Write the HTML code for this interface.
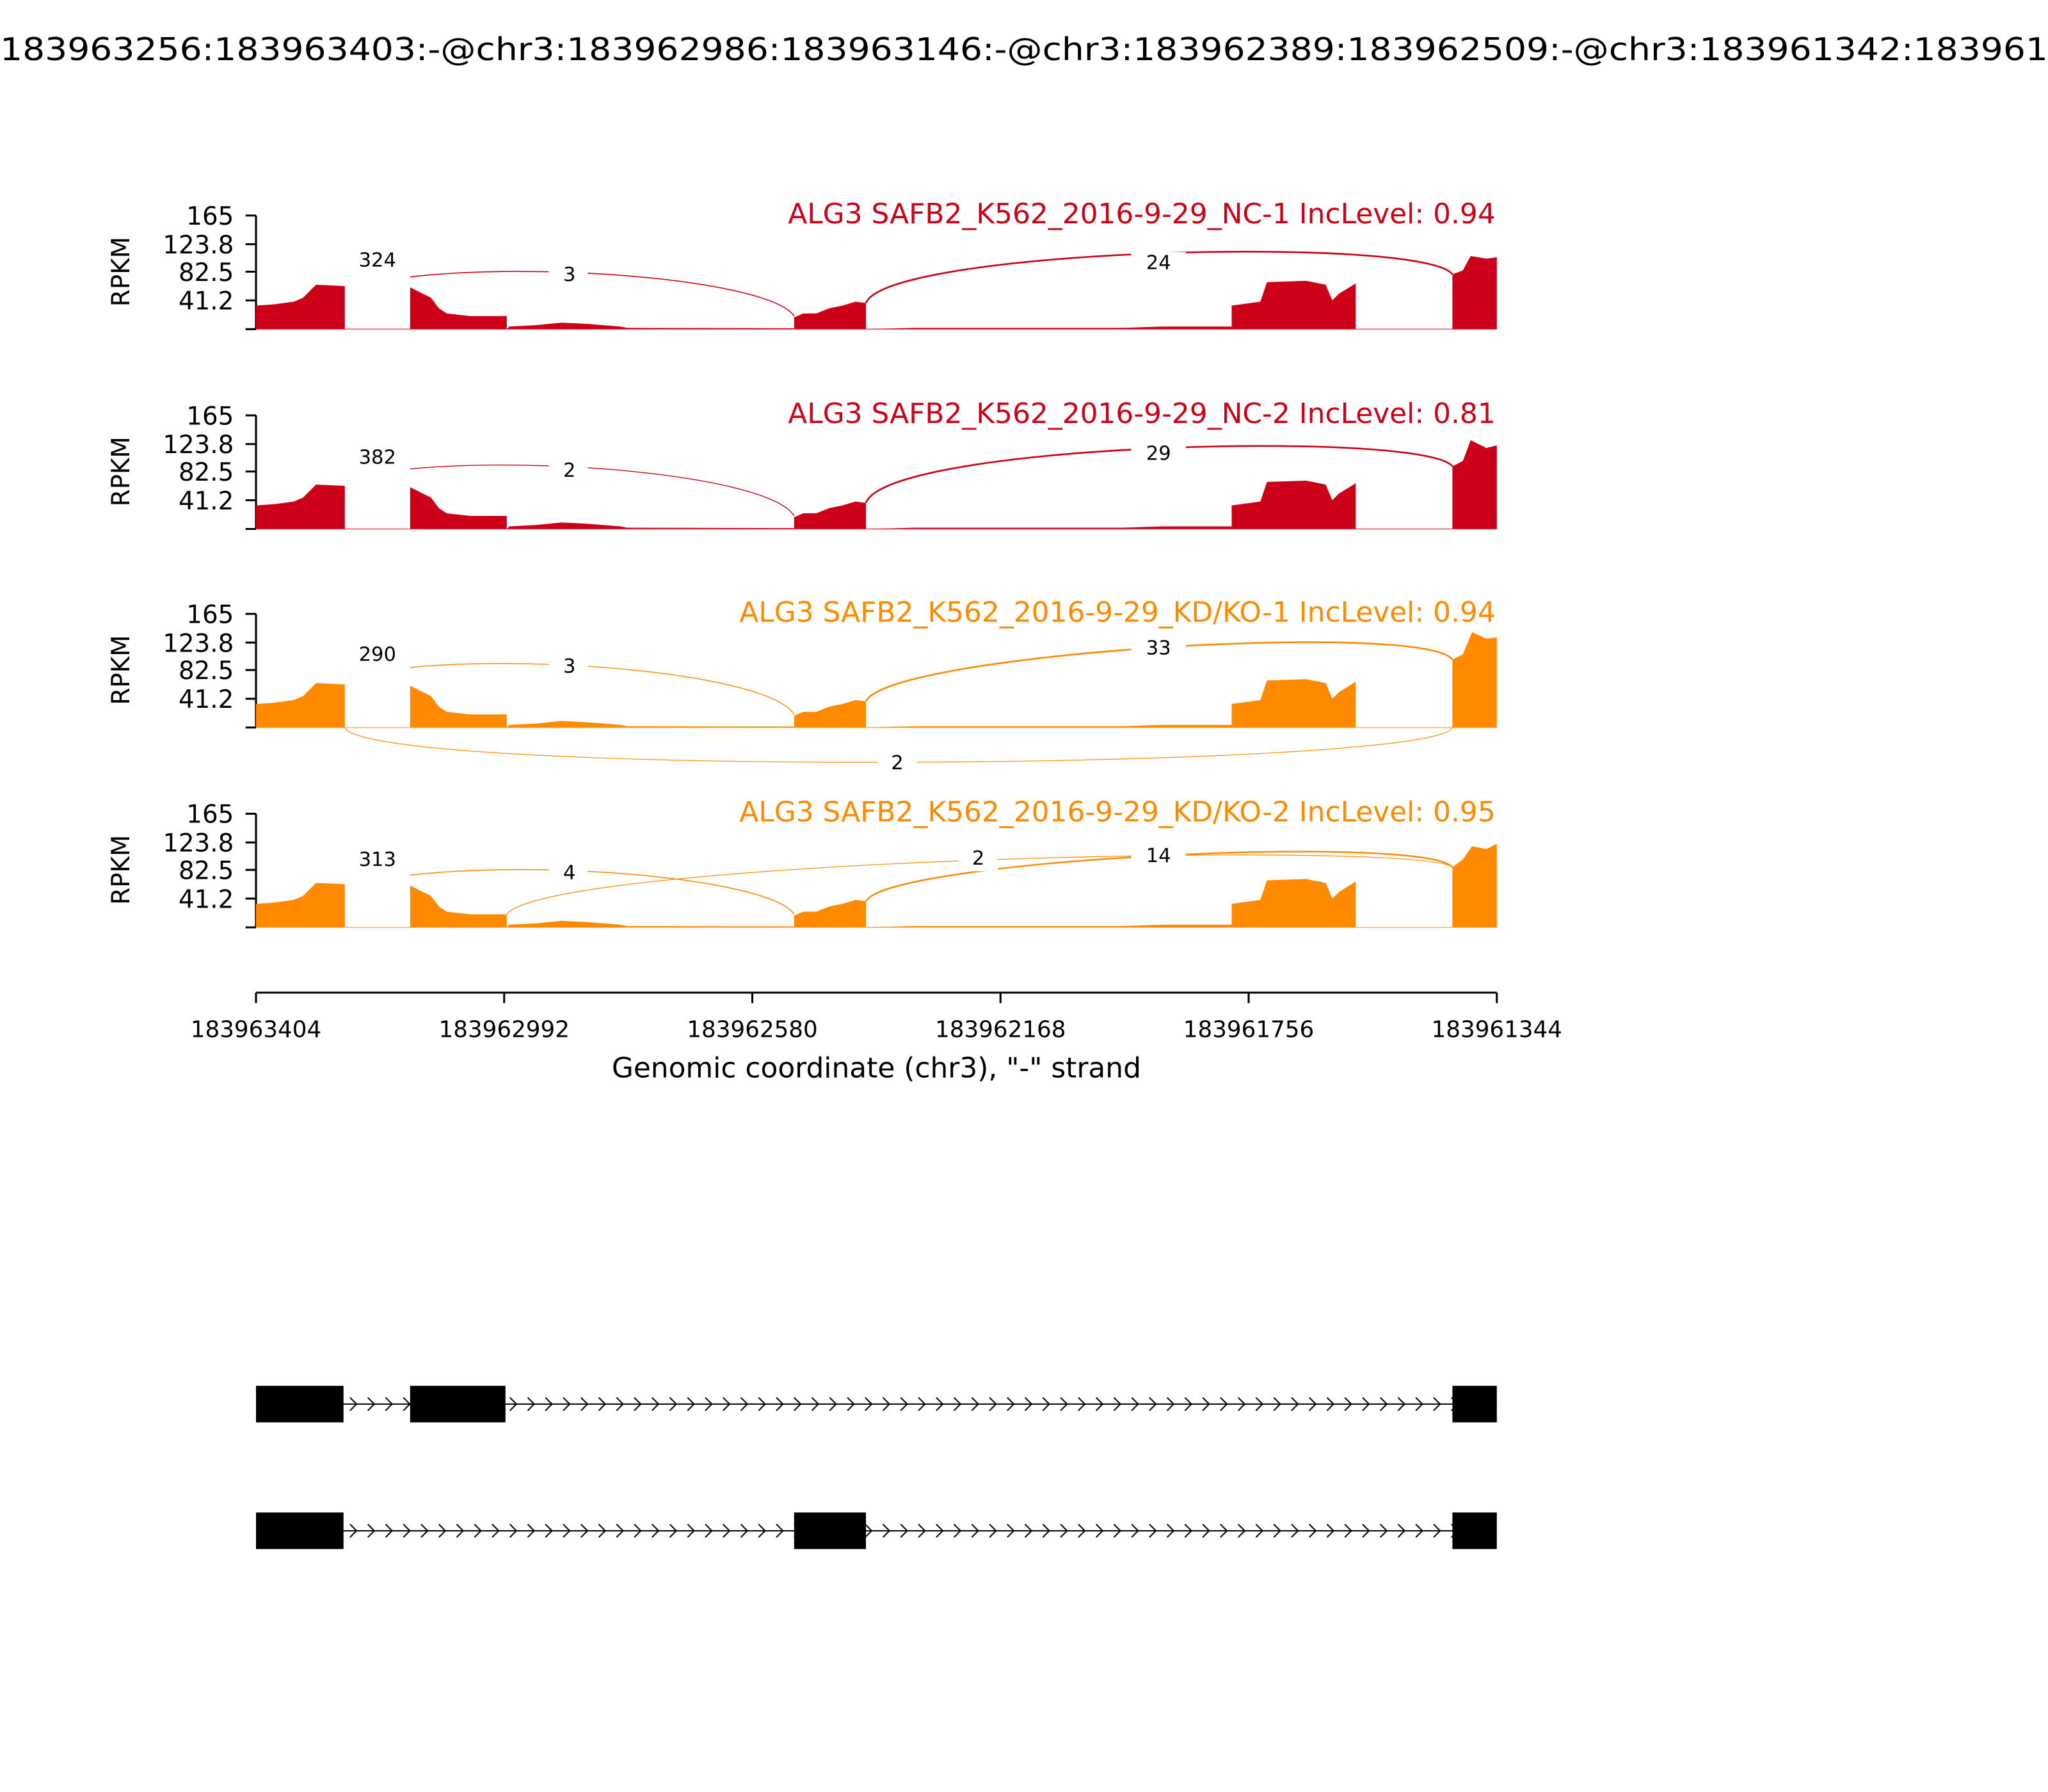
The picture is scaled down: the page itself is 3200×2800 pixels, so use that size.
<!DOCTYPE html>
<html><head><style>html,body{margin:0;padding:0;background:#fff}svg{display:block}</style></head>
<body>
<svg width="3200" height="2800" viewBox="0 0 1568 1372" xmlns="http://www.w3.org/2000/svg" font-family="'DejaVu Sans','Liberation Sans',sans-serif">
<defs>
<g id="cov">
<path d="M196,252 L196,234 L210,233 L225,231 L232,228 L238,222 L242,218 L264,219 L264,252 Z"/>
<path d="M314,252 L314,220 L322,224 L330,228 L336,236 L342,240 L360,242 L388,242 L388,252 Z"/>
<path d="M388,252 L390,250 L410,249 L430,247 L450,248 L475,250 L480,251 L608,251.3 L608,252 Z"/>
<path d="M608,252 L608,243 L615,240 L625,240 L635,236 L645,234 L655,231 L663,232 L663,252 Z"/>
<path d="M663,252 L700,251 L860,251 L890,250 L943,250 L943,252 Z"/>
<path d="M943,252 L943,234 L965,231 L970,216 L1000,215 L1015,218 L1020,230 L1025,225 L1038,217 L1038,252 Z"/>
</g>
<pattern id="chev1" x="264" y="1065" width="13.6" height="20" patternUnits="userSpaceOnUse">
<path d="M4,5 L9,10 L4,15" fill="none" stroke="#000" stroke-width="1"/>
</pattern>
<pattern id="chev2" x="264" y="1162" width="13.6" height="20" patternUnits="userSpaceOnUse">
<path d="M4,5 L9,10 L4,15" fill="none" stroke="#000" stroke-width="1"/>
</pattern>
<g id="axes1">
<g stroke="#000" stroke-width="1.5" fill="none">
<line x1="196" y1="165" x2="196" y2="252"/>
<line x1="188" y1="165" x2="196" y2="165"/><line x1="188" y1="187" x2="196" y2="187"/><line x1="188" y1="208" x2="196" y2="208"/><line x1="188" y1="230" x2="196" y2="230"/><line x1="188" y1="252" x2="196" y2="252"/>
</g>
<g font-size="19" text-anchor="end" fill="#000">
<text x="179" y="172">165</text><text x="179" y="194">123.8</text><text x="179" y="215">82.5</text><text x="179" y="237">41.2</text>
</g>
<text transform="translate(99,208) rotate(-90)" font-size="19" text-anchor="middle">RPKM</text>
</g>
</defs>

<text x="0" y="46" font-size="24" textLength="1568" lengthAdjust="spacingAndGlyphs">183963256:183963403:-@chr3:183962986:183963146:-@chr3:183962389:183962509:-@chr3:183961342:183961</text>

<!-- Panel 1 -->
<use href="#axes1"/>
<g fill="#cc0017">
<use href="#cov"/>
<path d="M1112,252 L1112,210 L1120,207 L1126,196 L1138,198 L1146,197 L1146,187 L1146,252 Z"/>
</g>
<line x1="196" y1="252" x2="1146" y2="252" stroke="#cc0017" stroke-width="1" opacity="0.5"/>
<g fill="none" stroke="#cc0017">
<path d="M314,212 C420,200 590,215 608,242" stroke-width="0.8"/>
<path d="M663,232 C680,190 1090,180 1112,210" stroke-width="1.3"/>
</g>
<g font-size="15" text-anchor="middle">
<rect x="420" y="201" width="30" height="18" fill="#fff"/><text x="436" y="215">3</text>
<rect x="866" y="193" width="42" height="18" fill="#fff"/><text x="887" y="206">24</text>
<text x="289" y="204">324</text>
</g>
<text x="1145" y="171" font-size="21.5" text-anchor="end" fill="#cc0017">ALG3 SAFB2_K562_2016-9-29_NC-1 IncLevel: 0.94</text>

<!-- Panel 2 -->
<g transform="translate(0,153)">
<use href="#axes1"/>
<g fill="#cc0017">
<use href="#cov"/>
<path d="M1112,252 L1112,204 L1120,200 L1126,184 L1138,190 L1146,188 L1146,182 L1146,252 Z"/>
</g>
<line x1="196" y1="252" x2="1146" y2="252" stroke="#cc0017" stroke-width="1" opacity="0.5"/>
<g fill="none" stroke="#cc0017">
<path d="M314,206 C420,196 590,212 608,242" stroke-width="0.7"/>
<path d="M663,232 C680,186 1090,176 1112,204" stroke-width="1.3"/>
</g>
<g font-size="15" text-anchor="middle">
<rect x="420" y="198" width="30" height="18" fill="#fff"/><text x="436" y="212">2</text>
<rect x="866" y="186" width="42" height="18" fill="#fff"/><text x="887" y="199">29</text>
<text x="289" y="202">382</text>
</g>
<text x="1145" y="171" font-size="21.5" text-anchor="end" fill="#cc0017">ALG3 SAFB2_K562_2016-9-29_NC-2 IncLevel: 0.81</text>
</g>

<!-- Panel 3 -->
<g transform="translate(0,305)">
<use href="#axes1"/>
<g fill="#ff8a00">
<use href="#cov"/>
<path d="M1112,252 L1112,200 L1120,196 L1127,179 L1138,184 L1146,183 L1146,176 L1146,252 Z"/>
</g>
<line x1="196" y1="252" x2="1146" y2="252" stroke="#ff8a00" stroke-width="1" opacity="0.5"/>
<g fill="none" stroke="#ff8a00">
<path d="M314,206 C420,196 590,212 608,242" stroke-width="0.7"/>
<path d="M663,232 C680,195 1090,170 1112,200" stroke-width="1.3"/>
<path d="M264,252 C280,290 1100,285 1112,252" stroke-width="0.6"/>
</g>
<g font-size="15" text-anchor="middle">
<rect x="420" y="196" width="30" height="18" fill="#fff"/><text x="436" y="210">3</text>
<rect x="866" y="183" width="42" height="18" fill="#fff"/><text x="887" y="196">33</text>
<rect x="672" y="270" width="30" height="18" fill="#fff"/><text x="687" y="284">2</text>
<text x="289" y="201">290</text>
</g>
<text x="1145" y="171" font-size="21.5" text-anchor="end" fill="#ff8a00">ALG3 SAFB2_K562_2016-9-29_KD/KO-1 IncLevel: 0.94</text>
</g>

<!-- Panel 4 -->
<g transform="translate(0,458)">
<use href="#axes1"/>
<g fill="#ff8a00">
<use href="#cov"/>
<path d="M1112,252 L1112,206 L1120,200 L1127,190 L1138,192 L1146,188 L1146,178 L1146,252 Z"/>
</g>
<line x1="196" y1="252" x2="1146" y2="252" stroke="#ff8a00" stroke-width="1" opacity="0.5"/>
<g fill="none" stroke="#ff8a00">
<path d="M314,212 C420,200 590,215 608,242" stroke-width="0.8"/>
<path d="M663,232 C680,200 1090,180 1112,206" stroke-width="1.2"/>
<path d="M388,242 C420,200 1090,185 1112,206" stroke-width="0.6"/>
</g>
<g font-size="15" text-anchor="middle">
<rect x="420" y="202" width="30" height="18" fill="#fff"/><text x="436" y="215">4</text>
<rect x="734" y="191" width="30" height="18" fill="#fff"/><text x="749" y="204">2</text>
<rect x="866" y="189" width="42" height="18" fill="#fff"/><text x="887" y="202">14</text>
<text x="289" y="205">313</text>
</g>
<text x="1145" y="171" font-size="21.5" text-anchor="end" fill="#ff8a00">ALG3 SAFB2_K562_2016-9-29_KD/KO-2 IncLevel: 0.95</text>
</g>

<!-- X axis -->
<g stroke="#000" stroke-width="1.5">
<line x1="196" y1="760" x2="1146" y2="760"/>
<line x1="196" y1="760" x2="196" y2="768"/><line x1="386" y1="760" x2="386" y2="768"/><line x1="576" y1="760" x2="576" y2="768"/><line x1="766" y1="760" x2="766" y2="768"/><line x1="956" y1="760" x2="956" y2="768"/><line x1="1146" y1="760" x2="1146" y2="768"/>
</g>
<g font-size="17.5" text-anchor="middle">
<text x="196" y="794">183963404</text><text x="386" y="794">183962992</text><text x="576" y="794">183962580</text><text x="766" y="794">183962168</text><text x="956" y="794">183961756</text><text x="1146" y="794">183961344</text>
</g>
<text x="671" y="825" font-size="21.5" text-anchor="middle">Genomic coordinate (chr3), "-" strand</text>

<!-- Gene models -->
<g>
<line x1="196" y1="1075" x2="1146" y2="1075" stroke="#000" stroke-width="1"/>
<rect x="264" y="1065" width="848" height="20" fill="url(#chev1)"/>
<rect x="196" y="1061" width="67" height="28" fill="#000"/>
<rect x="314" y="1061" width="73" height="28" fill="#000"/>
<rect x="1112" y="1061" width="34" height="28" fill="#000"/>
</g>
<g>
<line x1="196" y1="1172" x2="1146" y2="1172" stroke="#000" stroke-width="1"/>
<rect x="264" y="1162" width="848" height="20" fill="url(#chev2)"/>
<rect x="196" y="1158" width="67" height="28" fill="#000"/>
<rect x="608" y="1158" width="55" height="28" fill="#000"/>
<rect x="1112" y="1158" width="34" height="28" fill="#000"/>
</g>
</svg>
</body></html>
